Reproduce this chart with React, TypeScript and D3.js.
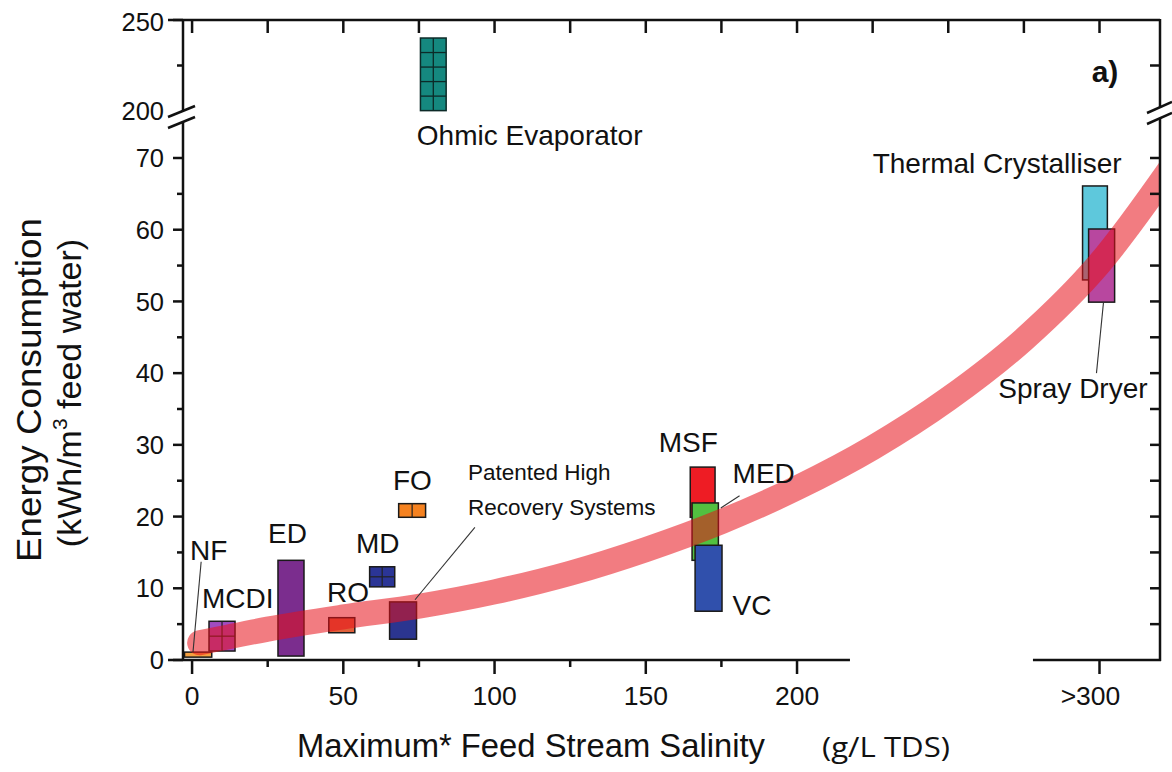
import React from 'react';
import * as d3 from 'd3';

const W = 1172;
const H = 772;

// ---- Data: technologies as boxes (salinity range x, energy range y) ----
const boxNames = ['NF', 'MCDI', 'ED', 'RO', 'MD', 'PHRS', 'FO', 'MSF', 'MED', 'VC', 'TC', 'SD'];
const boxX0 = [-2.5, 5.6, 28.4, 45.2, 58.7, 65.3, 68.3, 164.7, 165.3, 166.3, 294.4, 296.4];
const boxX1 = [6.5, 14.2, 37.0, 53.8, 67.0, 74.2, 77.2, 172.9, 174.0, 175.2, 302.6, 305.0];
const boxY0 = [0.4, 1.25, 0.55, 3.8, 10.2, 2.9, 19.9, 19.9, 13.9, 6.8, 53.0, 49.9];
const boxY1 = [1.1, 5.4, 13.9, 5.9, 13.0, 8.1, 21.8, 26.9, 21.9, 16.0, 66.1, 60.1];
const boxColors = ['#f5a040', '#a04cc0', '#7b2d8e', '#e0603a', '#2b3596', '#2b3590', '#f58220', '#ee1c24', '#52c040', '#3050ac', '#5ec8dc', '#b8479f'];
const boxGridCols = [1, 2, 1, 1, 2, 1, 2, 1, 1, 1, 1, 1];
const boxGridRows = [1, 2, 1, 1, 2, 1, 1, 1, 1, 1, 1, 1];

// Ohmic evaporator (upper panel, broken axis)
const ohmicX = [75.5, 84.0];
const ohmicY = [200.2, 240.1];
const ohmicCols = 2;
const ohmicRows = 5;

// Trend band (energy vs salinity)
const bandX = [2.5, 25, 50, 75, 100, 125, 150, 175, 200, 225, 250, 275, 300, 325];
const bandY = [2.4, 4.3, 6.0, 7.5, 9.5, 12.1, 15.4, 19.3, 24.0, 29.6, 36.4, 44.7, 55.3, 69.5];

// Labels (data coords, lower panel)
const labelText = ['NF', 'MCDI', 'ED', 'RO', 'MD', 'FO', 'MSF', 'MED', 'VC', 'Thermal Crystalliser', 'Spray Dryer', 'Ohmic Evaporator'];
const labelX = [-0.7, 3.3, 25.1, 44.6, 54.2, 66.4, 154.3, 178.7, 178.7, 307.3, 315.9, 74.3];
const labelY = [13.9, 7.25, 16.3, 8.1, 14.9, 23.7, 29.0, 24.7, 6.3, 67.9, 36.5, 71.8];
const labelAnchor = ['start', 'start', 'start', 'start', 'start', 'start', 'start', 'start', 'start', 'end', 'end', 'start'];

const phrsLines = ['Patented High', 'Recovery Systems'];
const phrsX = 91.2;
const phrsY = [25.1, 20.2];

// Leader lines [x1, y1, x2, y2] in data coords
const leaderX1 = [3.0, 93.5, 181.0, 301.3];
const leaderY1 = [13.7, 18.5, 22.9, 49.8];
const leaderX2 = [0.3, 73.7, 174.8, 299.0];
const leaderY2 = [1.1, 8.4, 21.2, 40.0];

// Axis ticks
const xMajor = [0, 50, 100, 150, 200, 300];
const xMajorLabels = ['0', '50', '100', '150', '200', '>300'];
const xMinor = [25, 75, 125, 175];
const xTop = [0, 25, 50, 75, 100, 125, 150, 175, 200, 225, 250, 275, 300];
const yLowMajor = [0, 10, 20, 30, 40, 50, 60, 70];
const yLowMinor = [5, 15, 25, 35, 45, 55, 65];
const yUpMajor = [200, 250];
const yUpMinor = [225];
const xAxisGap = [217.5, 278];

const FONT = '"Liberation Sans", Arial, sans-serif';

export default function App() {
  const x = d3.scaleLinear().domain([-3, 320]).range([183, 1160]);
  const yLow = d3.scaleLinear().domain([0, 70]).range([660, 158]);
  const yUp = d3.scaleLinear().domain([200, 250]).range([111, 20]);

  const L = 183;
  const R = 1160;
  const T = 20;
  const B = 660;
  const breakTop = 111;
  const breakBot = 122;

  const band = d3
    .line<number>()
    .x((_, i) => x(bandX[i]))
    .y((_, i) => yLow(bandY[i]))
    .curve(d3.curveMonotoneX)(bandX.map((_, i) => i)) as string;

  const boxes = boxNames.map((n, i) => {
    const x0 = x(boxX0[i]);
    const x1 = x(boxX1[i]);
    const y0 = yLow(boxY1[i]);
    const y1 = yLow(boxY0[i]);
    const lines: JSX.Element[] = [];
    for (let c = 1; c < boxGridCols[i]; c++) {
      const gx = x0 + ((x1 - x0) * c) / boxGridCols[i];
      lines.push(<line key={'c' + c} x1={gx} x2={gx} y1={y0} y2={y1} stroke="#222" strokeWidth={1.2} />);
    }
    for (let r = 1; r < boxGridRows[i]; r++) {
      const gy = y0 + ((y1 - y0) * r) / boxGridRows[i];
      lines.push(<line key={'r' + r} x1={x0} x2={x1} y1={gy} y2={gy} stroke="#222" strokeWidth={1.2} />);
    }
    return (
      <g key={n}>
        <rect x={x0} y={y0} width={x1 - x0} height={y1 - y0} fill={boxColors[i]} stroke="#1a1a1a" strokeWidth={1.5} />
        {lines}
      </g>
    );
  });

  const ox0 = x(ohmicX[0]);
  const ox1 = x(ohmicX[1]);
  const oy0 = yUp(ohmicY[1]);
  const oy1 = yUp(ohmicY[0]);
  const ohmicLines: JSX.Element[] = [];
  for (let c = 1; c < ohmicCols; c++) {
    const gx = ox0 + ((ox1 - ox0) * c) / ohmicCols;
    ohmicLines.push(<line key={'oc' + c} x1={gx} x2={gx} y1={oy0} y2={oy1} stroke="#0c2a28" strokeWidth={1.3} />);
  }
  for (let r = 1; r < ohmicRows; r++) {
    const gy = oy0 + ((oy1 - oy0) * r) / ohmicRows;
    ohmicLines.push(<line key={'or' + r} x1={ox0} x2={ox1} y1={gy} y2={gy} stroke="#0c2a28" strokeWidth={1.3} />);
  }

  const ax = { stroke: '#111', strokeWidth: 2.5 };

  return (
    <svg
      width={W}
      height={H}
      viewBox={`0 0 ${W} ${H}`}
      style={{ position: 'absolute', left: 0, top: 0, background: '#fff' }}
      fontFamily={FONT}
    >
      <rect x={0} y={0} width={W} height={H} fill="#fff" />
      <defs>
        <clipPath id="plotClip">
          <rect x={L} y={breakBot} width={R - L} height={B - breakBot} />
        </clipPath>
      </defs>

      {/* boxes */}
      {boxes}

      {/* trend band */}
      <g clipPath="url(#plotClip)">
        <path d={band} fill="none" stroke="#e8101a" strokeOpacity={0.55} strokeWidth={25} strokeLinecap="round" />
      </g>

      {/* ohmic evaporator */}
      <rect x={ox0} y={oy0} width={ox1 - ox0} height={oy1 - oy0} fill="#15887f" stroke="#0c2a28" strokeWidth={1.5} />
      {ohmicLines}

      {/* leader lines */}
      {leaderX1.map((_, i) => (
        <line
          key={'ld' + i}
          x1={x(leaderX1[i])}
          y1={yLow(leaderY1[i])}
          x2={x(leaderX2[i])}
          y2={yLow(leaderY2[i])}
          stroke="#333"
          strokeWidth={1.1}
        />
      ))}

      {/* labels */}
      {labelText.map((t, i) => (
        <text
          key={'lb' + i}
          x={x(labelX[i])}
          y={yLow(labelY[i])}
          textAnchor={labelAnchor[i] as any}
          fontSize={28}
          fill="#111"
        >
          {t}
        </text>
      ))}
      {phrsLines.map((t, i) => (
        <text key={'ph' + i} x={x(phrsX)} y={yLow(phrsY[i])} fontSize={22.5} fill="#111">
          {t}
        </text>
      ))}
      <text x={x(297.4)} y={yUp(216)} fontSize={30} fontWeight="bold" fill="#111">
        a)
      </text>

      {/* axes frame */}
      <line x1={168} x2={R} y1={T} y2={T} {...ax} />
      <line x1={L} x2={L} y1={T} y2={breakTop} {...ax} />
      <line x1={L} x2={L} y1={breakBot} y2={B + 1} {...ax} />
      <line x1={R} x2={R} y1={T - 1} y2={breakTop - 4} {...ax} />
      <line x1={R} x2={R} y1={breakBot - 4} y2={B + 1} {...ax} />
      <line x1={168} x2={x(xAxisGap[0])} y1={B} y2={B} {...ax} />
      <line x1={x(xAxisGap[1])} x2={R + 1} y1={B} y2={B} {...ax} />

      {/* break marks */}
      <line x1={L - 15} y1={breakTop + 6} x2={L + 12} y2={breakTop - 5} {...ax} />
      <line x1={L - 15} y1={breakBot + 6} x2={L + 12} y2={breakBot - 5} {...ax} />
      <line x1={R - 13} y1={breakTop + 2} x2={R + 12} y2={breakTop - 9} {...ax} />
      <line x1={R - 13} y1={breakBot + 2} x2={R + 12} y2={breakBot - 9} {...ax} />

      {/* top ticks */}
      {xTop.map((v) => (
        <line key={'tt' + v} x1={x(v)} x2={x(v)} y1={T} y2={T + 13} {...ax} />
      ))}
      {/* bottom ticks */}
      {xMajor.map((v, i) => (
        <g key={'bx' + v}>
          <line x1={x(v)} x2={x(v)} y1={B} y2={B + 14} {...ax} />
          <text x={x(v) - (xMajorLabels[i].startsWith('>') ? 9 : 0)} y={B + 45} textAnchor="middle" fontSize={26.5} fill="#111">
            {xMajorLabels[i]}
          </text>
        </g>
      ))}
      {xMinor.map((v) => (
        <line key={'bm' + v} x1={x(v)} x2={x(v)} y1={B} y2={B + 7} {...ax} />
      ))}

      {/* left ticks lower */}
      {yLowMajor.map((v) => (
        <g key={'ly' + v}>
          <line x1={L - 10} x2={L} y1={yLow(v)} y2={yLow(v)} {...ax} />
          <text x={L - 19} y={yLow(v)} dy="0.36em" textAnchor="end" fontSize={25.5} fill="#111">
            {v}
          </text>
        </g>
      ))}
      {yLowMinor.map((v) => (
        <line key={'lm' + v} x1={L - 6} x2={L} y1={yLow(v)} y2={yLow(v)} {...ax} />
      ))}
      {/* left ticks upper */}
      {yUpMajor.map((v) => (
        <g key={'uy' + v}>
          {v !== 200 && <line x1={L - 10} x2={L} y1={yUp(v)} y2={yUp(v)} {...ax} />}
          <text x={L - 19} y={yUp(v) + (v === 200 ? 0 : 2)} dy="0.36em" textAnchor="end" fontSize={25.5} fill="#111">
            {v}
          </text>
        </g>
      ))}
      {yUpMinor.map((v) => (
        <line key={'um' + v} x1={L - 6} x2={L} y1={yUp(v)} y2={yUp(v)} {...ax} />
      ))}

      {/* right ticks */}
      {[...yLowMinor, ...yLowMajor.filter((v) => v > 0)].map((v) => (
        <line key={'ry' + v} x1={R - 10} x2={R} y1={yLow(v)} y2={yLow(v)} {...ax} />
      ))}
      {yUpMinor.map((v) => (
        <line key={'ru' + v} x1={R - 10} x2={R} y1={yUp(v)} y2={yUp(v)} {...ax} />
      ))}

      {/* axis titles */}
      <text x={297} y={757} fontSize={33} fill="#111" textLength={468} lengthAdjust="spacingAndGlyphs">
        Maximum* Feed Stream Salinity
      </text>
      <text x={822} y={757} fontSize={27} fill="#111" fontFamily='"Open Sans", sans-serif' textLength={128} lengthAdjust="spacingAndGlyphs">
        (g/L TDS)
      </text>

      <g transform="translate(41,390) rotate(-90)">
        <text x={0} y={0} textAnchor="middle" fontSize={35} fill="#111" textLength={344} lengthAdjust="spacingAndGlyphs">
          Energy Consumption
        </text>
      </g>
      <g transform="translate(81,393) rotate(-90)">
        <text x={0} y={0} textAnchor="middle" fontSize={34} fill="#111">
          (kWh/m
          <tspan fontSize={21} dy={-14}>
            3
          </tspan>
          <tspan dy={14}> feed water)</tspan>
        </text>
      </g>
    </svg>
  );
}
